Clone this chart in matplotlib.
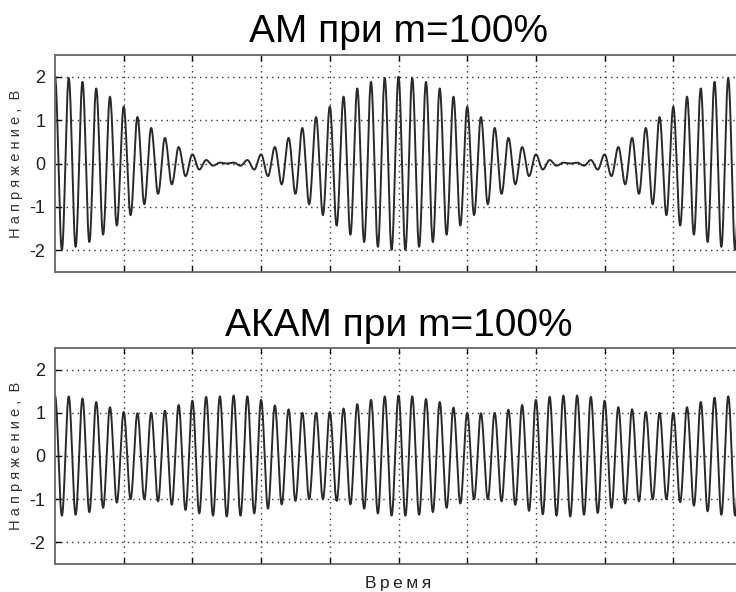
import numpy as np
from matplotlib import pyplot as plt

plt.rcParams['font.family'] = ['Liberation Sans', 'DejaVu Sans']
plt.rcParams['axes.unicode_minus'] = False

# carrier extrema: peaks at t=0,0.2,...,10, troughs at t=0.1,0.3,...,9.9
t_peak = np.arange(0, 51) * 0.2
t_trough = np.arange(0, 50) * 0.2 + 0.1

am_peaks = [2.0, 1.97, 1.88, 1.73, 1.54, 1.31, 1.07, 0.82, 0.59, 0.38, 0.21, 0.08, 0.02,
            0.02, 0.08, 0.21, 0.38, 0.59, 0.82, 1.07, 1.31, 1.54, 1.73, 1.88, 1.97, 2.0,
            1.97, 1.88, 1.73, 1.54, 1.31, 1.07, 0.82, 0.59, 0.38, 0.21, 0.08, 0.02,
            0.02, 0.08, 0.21, 0.38, 0.59, 0.82, 1.07, 1.31, 1.54, 1.73, 1.88, 1.97, 2.0]
am_troughs = [1.99, 1.92, 1.81, 1.64, 1.43, 1.19, 0.94, 0.70, 0.48, 0.29, 0.14, 0.05, 0.0,
              0.05, 0.14, 0.29, 0.48, 0.70, 0.94, 1.19, 1.43, 1.64, 1.81, 1.92, 1.99,
              1.99, 1.92, 1.81, 1.64, 1.43, 1.19, 0.94, 0.70, 0.48, 0.29, 0.14, 0.05, 0.0,
              0.05, 0.14, 0.29, 0.48, 0.70, 0.94, 1.19, 1.43, 1.64, 1.81, 1.92, 1.99]

akam_peaks = [1.4, 1.38, 1.33, 1.25, 1.13, 1.02, 0.99, 1.0, 1.05, 1.18, 1.28, 1.37, 1.38,
              1.4, 1.38, 1.3, 1.17, 1.08, 1.0, 1.0, 1.02, 1.1, 1.2, 1.3, 1.38, 1.4,
              1.38, 1.32, 1.25, 1.12, 1.0, 0.99, 1.0, 1.07, 1.18, 1.3, 1.37, 1.4,
              1.4, 1.37, 1.28, 1.13, 1.08, 1.02, 1.0, 1.0, 1.13, 1.25, 1.35, 1.38, 1.4]
akam_troughs = [1.38, 1.36, 1.3, 1.2, 1.08, 1.0, 1.0, 1.05, 1.13, 1.25, 1.33, 1.38, 1.4,
                1.38, 1.33, 1.22, 1.12, 1.04, 1.0, 1.0, 1.04, 1.12, 1.22, 1.33, 1.38,
                1.38, 1.36, 1.3, 1.2, 1.1, 1.0, 1.0, 1.05, 1.13, 1.27, 1.35, 1.38, 1.4,
                1.36, 1.32, 1.2, 1.1, 1.05, 1.0, 1.0, 1.07, 1.15, 1.28, 1.36, 1.38]


def wave(peaks, troughs):
    # join alternating extrema with half-cosine arcs
    tt = np.empty(101)
    vv = np.empty(101)
    tt[0::2] = t_peak
    tt[1::2] = t_trough
    vv[0::2] = peaks
    vv[1::2] = -np.array(troughs)
    s = np.linspace(0, 1, 20, endpoint=False)
    xs, ys = [], []
    for i in range(100):
        a, b = vv[i], vv[i + 1]
        xs.append(tt[i] + (tt[i + 1] - tt[i]) * s)
        ys.append((a + b) / 2 + (a - b) / 2 * np.cos(np.pi * s))
    xs.append([tt[-1]])
    ys.append([vv[-1]])
    return np.concatenate(xs), np.concatenate(ys)


fig = plt.figure(figsize=(7.36, 5.92), dpi=100)
W, H = 736, 592
ax1 = fig.add_axes([55 / W, 1 - 272 / H, 687 / W, 217 / H])
ax2 = fig.add_axes([55 / W, 1 - 564 / H, 687 / W, 216 / H])

ylab = " ".join("Напряжение,") + "  В"

for ax, pk, tr, title in [(ax1, am_peaks, am_troughs, "АМ при m=100%"),
                          (ax2, akam_peaks, akam_troughs, "АКАМ при m=100%")]:
    x, y = wave(pk, tr)
    ax.plot(x, y, color='#2a2a2a', lw=1.4)
    ax.set_xlim(0, 10)
    ax.set_ylim(-2.5, 2.5)
    ax.set_xticks(np.arange(1, 10))
    ax.set_yticks([-2, -1, 0, 1, 2])
    ax.set_xticklabels([])
    ax.grid(True, color='#333333', linestyle=(0, (1, 3)), linewidth=1)
    ax.tick_params(direction='in', length=4, width=1, top=True, labelsize=13, pad=7,
                   labelcolor='#222222')
    for sp in ax.spines.values():
        sp.set_color('#666666')
        sp.set_linewidth(1.3)
    ax.set_title(title, fontsize=28, pad=9)
    ax.set_ylabel(ylab, fontsize=10.5, color='#333333')
    ax.yaxis.set_label_coords(-0.047, 0.5)

ax2.set_xlabel("\u2009".join("Время"), fontsize=12.5, color='#222222')
ax2.xaxis.set_label_coords(0.5, -0.055)

fig.savefig("out.png", dpi=100)
